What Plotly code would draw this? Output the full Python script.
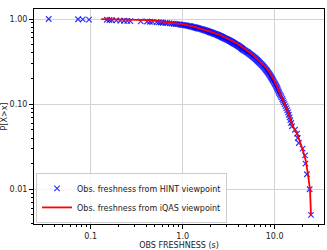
import plotly.graph_objects as go

# HINT viewpoint: observed freshness samples (s), sorted ascending (N = 200)
hint_freshness = [
    0.035, 0.073, 0.082, 0.096,
    0.15, 0.16, 0.17, 0.19, 0.21, 0.23, 0.25, 0.27,
    0.35,
    0.41, 0.44, 0.47, 0.52,
    0.55, 0.58, 0.61, 0.65, 0.68, 0.72, 0.76, 0.80, 0.84, 0.88, 0.92, 0.95, 0.98, 1.01, 1.05, 1.09, 1.13, 1.17,
    1.20, 1.22, 1.25, 1.28, 1.31, 1.34, 1.37, 1.40, 1.43, 1.46, 1.49, 1.52, 1.56, 1.60,
    1.63, 1.66, 1.70, 1.73, 1.76, 1.80, 1.83, 1.86, 1.90, 1.93, 1.96, 2.00,
    2.04, 2.08, 2.12, 2.16, 2.20, 2.24, 2.28, 2.32, 2.36, 2.40,
    2.44, 2.48, 2.52, 2.56, 2.60, 2.64, 2.68, 2.72, 2.76, 2.80, 2.85, 2.90, 2.95, 3.00,
    3.05, 3.10, 3.15, 3.20, 3.25, 3.30, 3.35, 3.40, 3.45, 3.50, 3.55, 3.60,
    3.65, 3.70, 3.76, 3.82, 3.88, 3.94, 4.00, 4.06, 4.12, 4.18, 4.24, 4.30, 4.36, 4.42, 4.46, 4.50,
    4.58, 4.66, 4.75, 4.83, 4.92, 5.00, 5.08, 5.16, 5.25, 5.33, 5.42, 5.51, 5.60,
    5.69, 5.78, 5.87, 5.96, 6.05, 6.14, 6.23, 6.32, 6.42, 6.52, 6.61, 6.70, 6.80,
    6.91, 7.02, 7.13, 7.24, 7.35, 7.46, 7.57, 7.68, 7.79, 7.90,
    8.02, 8.13, 8.25, 8.37, 8.48, 8.60,
    8.72, 8.84, 8.96, 9.08, 9.20, 9.33, 9.45, 9.58, 9.70,
    9.85, 10.0, 10.15, 10.3, 10.45, 10.6, 10.75, 10.9, 11.05, 11.2,
    11.4, 11.65, 11.85, 12.1, 12.3, 12.55, 12.8,
    13.1, 13.4,
    13.7, 14.0, 14.25, 14.55, 14.8, 15.1, 15.4,
    16.6, 17.5, 17.8, 18.3, 20.1, 21.4, 21.6, 22.4, 24.0, 24.8,
]

# iQAS viewpoint: CCDF curve (freshness s, P[X>x])
iqas_x = [0.13, 0.2, 0.3, 0.44, 0.73, 1.0, 1.3, 1.67, 2.0, 2.54, 3.2, 3.86, 4.8, 5.85, 7.0,
          8.2, 8.9, 10.0, 11.4, 12.9, 14.0, 15.8, 17.5, 20.0, 21.7, 23.0, 24.2, 24.8]
iqas_p = [1.0, 0.995, 0.985, 0.97, 0.91, 0.87, 0.82, 0.76, 0.71, 0.65, 0.58, 0.52, 0.44, 0.377, 0.31,
          0.263, 0.23, 0.185, 0.135, 0.10, 0.08, 0.055, 0.045, 0.03, 0.022, 0.015, 0.01, 0.005]

x_ticks = [0.1, 1.0, 10.0]
x_tick_labels = ["0.1", "1.0", "10.0"]
y_ticks = [0.01, 0.1, 1.0]
y_tick_labels = ["0.01", "0.10", "1.00"]

n = len(hint_freshness)
hint_p = [1.0 - i / n for i in range(n)]

x_minor = [m * 10 ** e for e in (-2, -1, 0, 1) for m in range(2, 10)]
y_minor = [m * 10 ** e for e in (-3, -2, -1) for m in range(2, 10)]

font = "DejaVu Sans"
fig = go.Figure()
fig.add_trace(go.Scatter(
    x=hint_freshness, y=hint_p, mode="markers",
    name="Obs. freshness from HINT viewpoint",
    marker=dict(symbol="x-thin", size=5.5, color="rgba(0,0,255,0.8)",
                line=dict(color="rgba(0,0,255,0.8)", width=1.2)),
))
fig.add_trace(go.Scatter(
    x=iqas_x, y=iqas_p, mode="lines",
    name="Obs. freshness from iQAS viewpoint",
    line=dict(color="#ff0000", width=1.8),
))

axis_common = dict(
    type="log", showline=True, linecolor="black", linewidth=1, mirror=True,
    ticks="outside", ticklen=4, tickcolor="black", tickwidth=1,
    showgrid=True, gridcolor="#d3d3d3", gridwidth=1, zeroline=False,
    tickfont=dict(family=font, size=8, color="#222"),
)
fig.update_xaxes(
    **axis_common, range=[-1.616, 1.536],
    tickmode="array", tickvals=x_ticks, ticktext=x_tick_labels,
    minor=dict(tickmode="array", tickvals=x_minor, ticks="outside", ticklen=2,
               tickcolor="black", showgrid=False),
    title=dict(text="OBS FRESHNESS (s)", font=dict(family=font, size=8, color="#222"), standoff=2),
    automargin=False,
)
fig.update_yaxes(
    **axis_common, range=[-2.408, 0.118],
    tickmode="array", tickvals=y_ticks, ticktext=y_tick_labels,
    minor=dict(tickmode="array", tickvals=y_minor, ticks="outside", ticklen=2,
               tickcolor="black", showgrid=False),
    title=dict(text="P[X>x]", font=dict(family=font, size=8, color="#222"), standoff=1),
    automargin=False,
)
fig.update_layout(
    width=327, height=250,
    margin=dict(l=34, r=3, t=9, b=26),
    paper_bgcolor="white", plot_bgcolor="white",
    font=dict(family=font, size=8, color="#222"),
    showlegend=True,
    legend=dict(x=0.007, y=0.005, xanchor="left", yanchor="bottom",
                bgcolor="rgba(255,255,255,0.8)", bordercolor="#cccccc", borderwidth=1,
                font=dict(family=font, size=8, color="#222"),
                itemwidth=30, tracegroupgap=0),
)
fig.write_html("out.html")
